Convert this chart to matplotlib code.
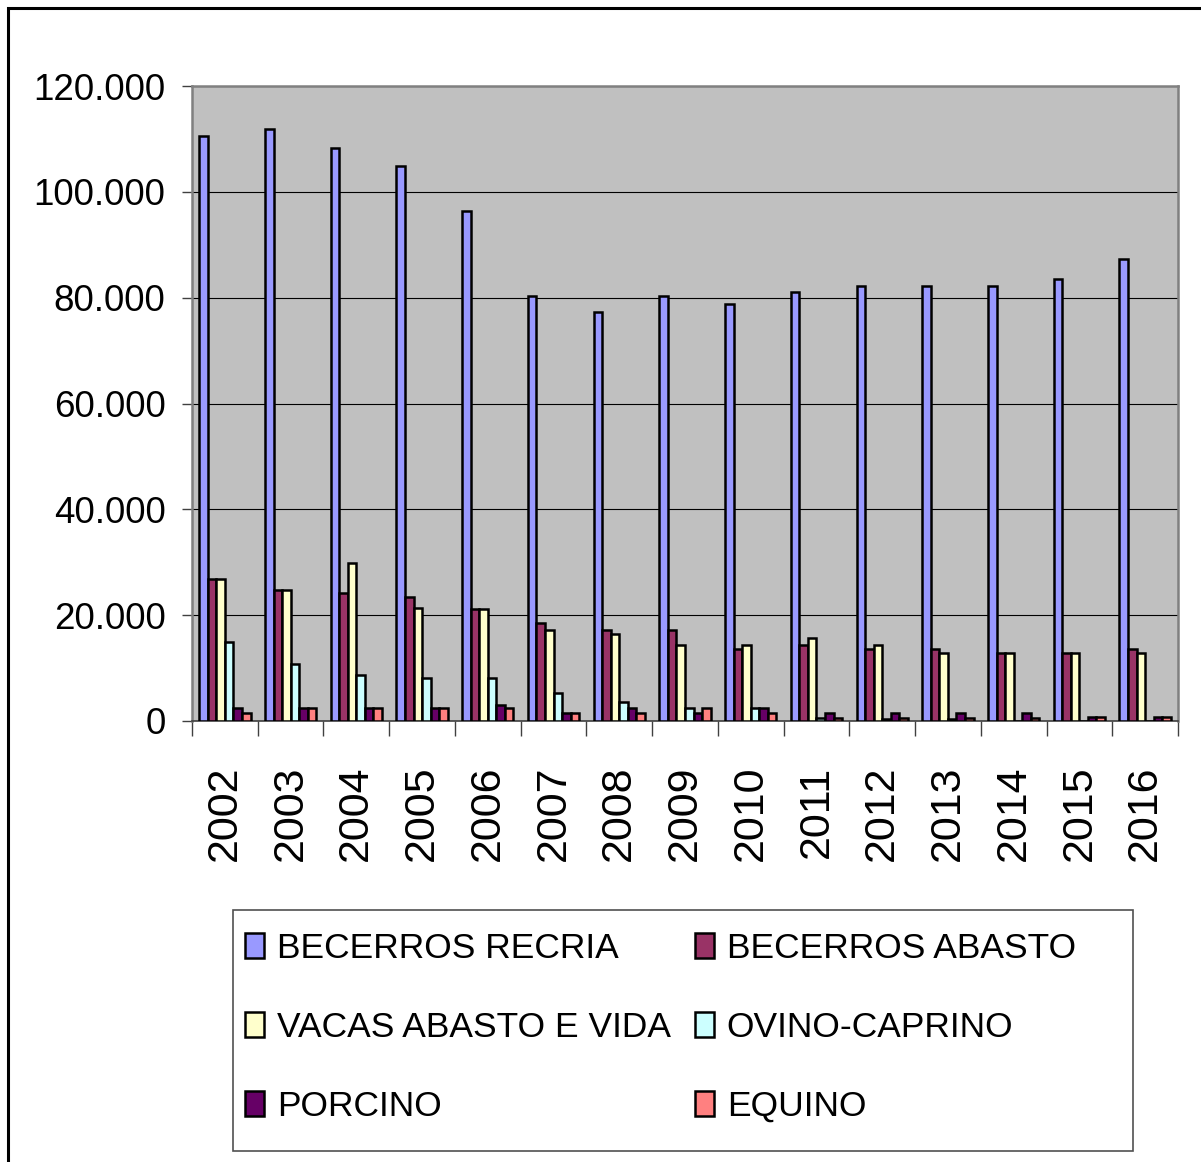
import numpy as np
import matplotlib
matplotlib.use('Agg')
import matplotlib.pyplot as plt
import matplotlib.ticker as ticker
import matplotlib.transforms as mtransforms
from matplotlib.patches import Rectangle

# data (head counts per year)
years = ['2002', '2003', '2004', '2005', '2006', '2007', '2008', '2009',
         '2010', '2011', '2012', '2013', '2014', '2015', '2016']
becerros_recria = [110500, 111800, 108300, 104900, 96400, 80300, 77300, 80300,
                   78800, 81000, 82200, 82200, 82200, 83600, 87300]
becerros_abasto = [26800, 24800, 24100, 23400, 21200, 18500, 17200, 17200,
                   13600, 14400, 13600, 13600, 12800, 12800, 13600]
vacas_abasto_vida = [26800, 24800, 29800, 21300, 21200, 17200, 16400, 14400,
                     14400, 15700, 14400, 12800, 12800, 12800, 12800]
ovino_caprino = [15000, 10800, 8700, 8100, 8100, 5200, 3600, 2400,
                 2400, 500, 300, 300, 0, 0, 0]
porcino = [2400, 2400, 2400, 2400, 3100, 1600, 2400, 1600,
           2400, 1600, 1600, 1600, 1600, 800, 800]
equino = [1600, 2400, 2400, 2400, 2400, 1600, 1600, 2400,
          1600, 500, 500, 500, 500, 800, 800]

series = [
    ('BECERROS RECRIA', becerros_recria, '#9999FF'),
    ('BECERROS ABASTO', becerros_abasto, '#993366'),
    ('VACAS ABASTO E VIDA', vacas_abasto_vida, '#FFFFCC'),
    ('OVINO-CAPRINO', ovino_caprino, '#CCFFFF'),
    ('PORCINO', porcino, '#660066'),
    ('EQUINO', equino, '#FF8080'),
]

font = 'Liberation Sans'
W, H = 1201, 1162
fig = plt.figure(figsize=(W / 100, H / 100), dpi=100)

# outer chart border (only top and left visible in the reference)
fig.add_artist(Rectangle((8 / W, -0.1), 1.2, 1 - 8 / H + 0.1, transform=fig.transFigure,
                         fill=False, edgecolor='black', linewidth=2.2, clip_on=False))

ax = fig.add_axes([192 / W, (H - 721) / H, (1178 - 192) / W, (721 - 86) / H])
ax.set_facecolor('#C0C0C0')

x = np.arange(len(years))
bw = 0.13
bars = []
for k, (name, vals, col) in enumerate(series):
    b = ax.bar(x + (k - 2.5) * bw, vals, width=bw, color=col, edgecolor='black',
               linewidth=1.8, label=name, zorder=3)
    bars.append(b)

ax.set_xlim(-0.5, len(years) - 0.5)
ax.set_ylim(0, 120000)
ax.yaxis.set_major_locator(ticker.MultipleLocator(20000))
ax.yaxis.set_major_formatter(ticker.FuncFormatter(lambda v, p: f'{int(v):,}'.replace(',', '.')))
ax.grid(True, axis='y', color='black', linewidth=0.8, zorder=1)

ax.set_xticks(x)
ax.set_xticklabels(years, rotation=90, fontsize=31, family=font, va='top')
shift = mtransforms.ScaledTranslation(5 / 100, 0, fig.dpi_scale_trans)
for lab in ax.get_xticklabels():
    lab.set_transform(lab.get_transform() + shift)
ax.set_xticks(np.arange(-0.5, len(years)), minor=True)
ax.tick_params(axis='x', which='major', length=0, pad=32)
ax.tick_params(axis='x', which='minor', length=11, width=1, color='#404040')
ax.tick_params(axis='y', length=7, width=1, color='#404040', pad=12)
for lab in ax.get_yticklabels():
    lab.set_family(font)
    lab.set_fontsize(26.5)

for side in ['top', 'right', 'left']:
    ax.spines[side].set_color('#808080')
    ax.spines[side].set_linewidth(1.8)
ax.spines['bottom'].set_color('#404040')
ax.spines['bottom'].set_linewidth(1.2)

# legend box drawn separately (Excel box is wider than its entries)
fig.add_artist(Rectangle((233 / W, 1 - 1151 / H), 900 / W, 241 / H, transform=fig.transFigure,
                         fill=False, edgecolor='#505050', linewidth=1.2))
order = [0, 2, 4, 1, 3, 5]
leg = fig.legend([bars[i] for i in order], [series[i][0] for i in order],
                 loc='upper left', bbox_to_anchor=(245 / W, 1 - 932 / H), ncol=2,
                 prop={'family': font, 'size': 25.5}, frameon=False,
                 handlelength=0.54, handleheight=0.73, handletextpad=0.37,
                 columnspacing=0.66, labelspacing=1.3, borderpad=0, borderaxespad=0)

fig.savefig('out.png', dpi=100, facecolor='white')
